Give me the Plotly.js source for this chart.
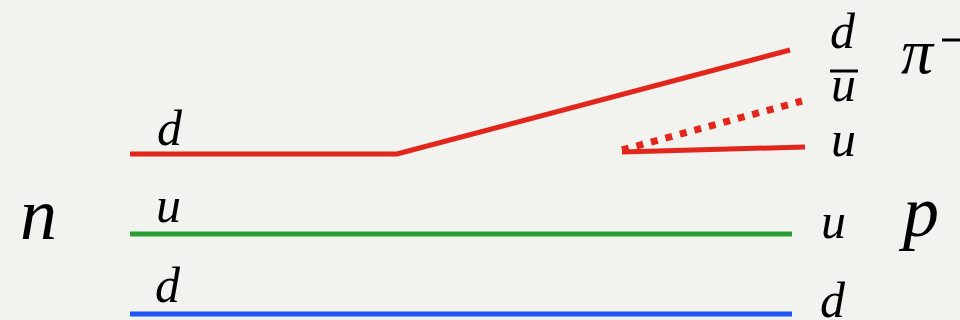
<!DOCTYPE html>
<html>
<head>
<meta charset="utf-8">
<script src="https://cdn.plot.ly/plotly-3.0.1.min.js"></script>
<style>html,body{margin:0;padding:0;background:#f2f2ef;}</style>
</head>
<body>
<div id="chart" style="width:960px;height:320px;"></div>
<script>
// Quark lines (diagram coordinates, x right, y down)
var dRedX = [130, 397, 790];
var dRedY = [154, 154, 50];
var uPairX = [622, 805];
var uPairY = [152, 147];
var uBarX = [622, 802];
var uBarY = [150, 101];
var uGreenX = [130, 792];
var uGreenY = [234, 234];
var dBlueX = [130, 792];
var dBlueY = [314, 314];

// Labels
var labelText =   ['d', 'u', 'd', 'd', 'u', 'u', 'u', 'd', 'n', 'p', 'π'];
var labelX =      [170, 168, 168, 843, 843, 843, 833, 833, 38, 918, 918];
var labelY =      [158, 235, 315, 61, 114, 169, 251, 270, 257, 254, 89];
var labelAnchor = ['bottom', 'bottom', 'bottom', 'bottom', 'bottom', 'bottom', 'bottom', 'top', 'bottom', 'bottom', 'bottom'];
var labelSize =   [50, 50, 50, 50, 50, 50, 50, 50, 74, 72, 64];

var red = '#e2261b', green = '#2a9e35', blue = '#1f57f6';

var traces = [
  {x: dRedX, y: dRedY, mode: 'lines', line: {color: red, width: 5}},
  {x: uPairX, y: uPairY, mode: 'lines', line: {color: red, width: 5}},
  {x: uBarX, y: uBarY, mode: 'lines', line: {color: red, width: 7, dash: '7px,8px'}},
  {x: uGreenX, y: uGreenY, mode: 'lines', line: {color: green, width: 5}},
  {x: dBlueX, y: dBlueY, mode: 'lines', line: {color: blue, width: 5}}
];

var annotations = labelText.map(function (t, i) {
  return {
    x: labelX[i], y: labelY[i], xref: 'x', yref: 'y',
    text: '<i>' + t + '</i>', showarrow: false,
    xanchor: 'center', yanchor: labelAnchor[i],
    font: {family: 'Liberation Serif', size: labelSize[i], color: '#000'}
  };
});

var layout = {
  width: 960, height: 320,
  margin: {l: 0, r: 0, t: 0, b: 0},
  paper_bgcolor: '#f2f2ef', plot_bgcolor: '#f2f2ef',
  showlegend: false,
  xaxis: {range: [0, 960], visible: false, fixedrange: true},
  yaxis: {range: [320, 0], visible: false, fixedrange: true},
  annotations: annotations,
  shapes: [
    {type: 'line', xref: 'x', yref: 'y', x0: 830, x1: 858, y0: 71, y1: 71, line: {color: '#000', width: 3}},
    {type: 'line', xref: 'x', yref: 'y', x0: 942, x1: 962, y0: 40, y1: 40, line: {color: '#000', width: 3}}
  ]
};

Plotly.newPlot('chart', traces, layout, {displayModeBar: false, staticPlot: true});
</script>
</body>
</html>
